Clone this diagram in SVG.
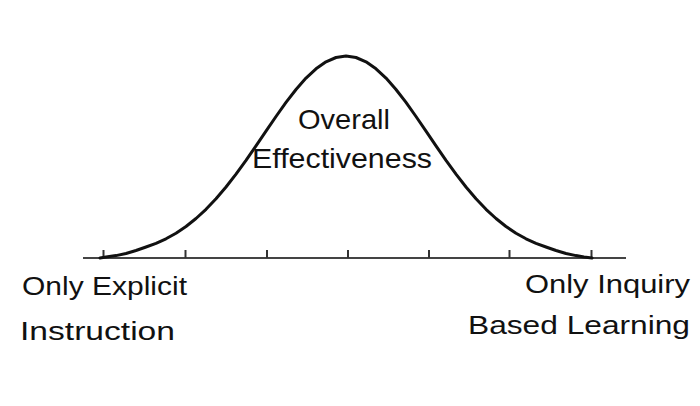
<svg xmlns="http://www.w3.org/2000/svg" width="700" height="406" viewBox="0 0 700 406">
<style>
.lbl{font-family:"Liberation Sans",Arial,sans-serif;fill:#111;}
.big{font-size:28px;}
.sm{font-size:25px;}
.tick{stroke:#333;stroke-width:2;}
</style>
<rect width="700" height="406" fill="#fff"/>
<g id="connectors">
<line id="axis" x1="83" y1="258" x2="626" y2="258" stroke="#444" stroke-width="2"/>
<g id="ticks">
<line class="tick" x1="103.5" y1="250" x2="103.5" y2="258"/>
<line class="tick" x1="185.5" y1="250" x2="185.5" y2="258"/>
<line class="tick" x1="267" y1="250" x2="267" y2="258"/>
<line class="tick" x1="348" y1="250" x2="348" y2="258"/>
<line class="tick" x1="429" y1="250" x2="429" y2="258"/>
<line class="tick" x1="509.5" y1="250" x2="509.5" y2="258"/>
<line class="tick" x1="591.5" y1="250" x2="591.5" y2="258"/>
</g>
</g>
<g id="curve">
<polyline fill="none" stroke="#111" stroke-width="3" stroke-linejoin="round" stroke-linecap="round" points="100,258 106,257 116,255.6 126,253.5 136,250.5 146,247 156,243.3 166,238.8 176,233.2 186,226.5 196,218.5 206,209.3 216,198.8 226,187 236,174.1 246,160.3 256,145.8 266,131.1 276,116.5 286,102.4 296,89.5 306,78.1 316,68.8 326,61.8 336,57.5 346,56 356,57.5 366,61.8 376,68.8 386,78.1 396,89.5 406,102.4 416,116.5 426,131.1 436,145.8 446,160.3 456,174.1 466,187 476,198.8 486,209.3 496,218.5 506,226.5 516,233.2 526,238.8 536,243.3 546,247 556,250.5 566,253.5 576,255.6 584,257 592,258"/>
</g>
<g id="title">
<text class="lbl big" x="298" y="129" textLength="92" lengthAdjust="spacingAndGlyphs">Overall</text>
<text class="lbl big" x="252" y="168" textLength="180" lengthAdjust="spacingAndGlyphs">Effectiveness</text>
</g>
<g id="left-label">
<text class="lbl sm" x="22" y="295" textLength="165" lengthAdjust="spacingAndGlyphs">Only Explicit</text>
<text class="lbl sm" x="20" y="340" textLength="155" lengthAdjust="spacingAndGlyphs">Instruction</text>
</g>
<g id="right-label">
<text class="lbl sm" x="525" y="293" textLength="165" lengthAdjust="spacingAndGlyphs">Only Inquiry</text>
<text class="lbl sm" x="468" y="334" textLength="222" lengthAdjust="spacingAndGlyphs">Based Learning</text>
</g>
</svg>
